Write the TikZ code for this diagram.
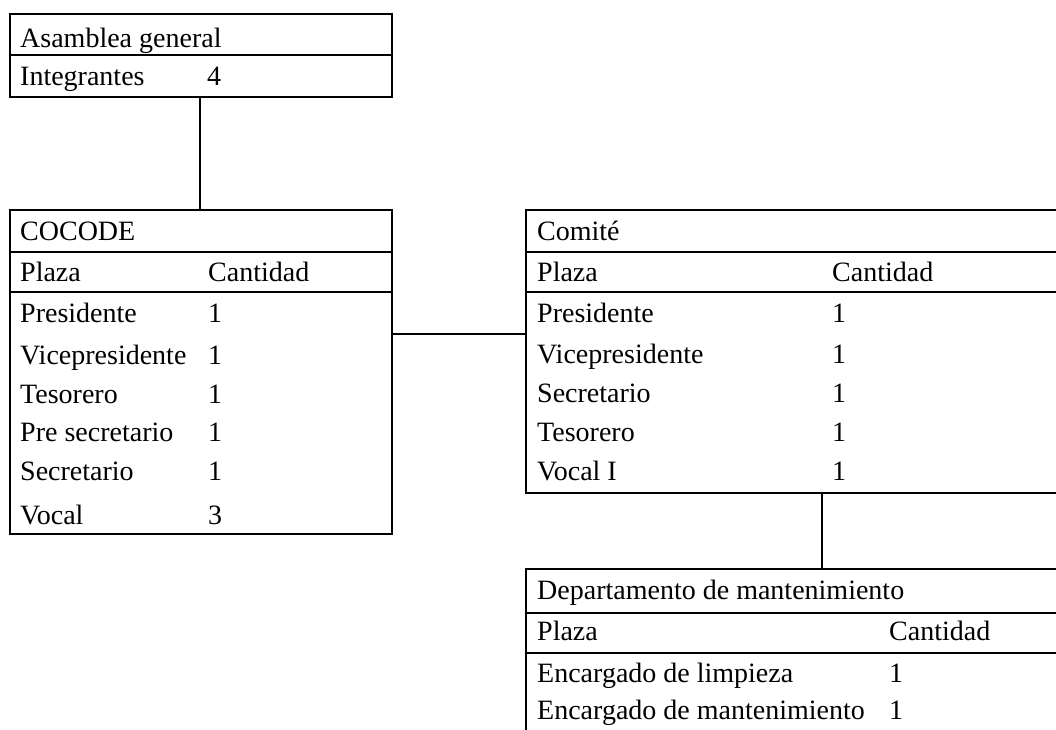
\documentclass[tikz,border=0pt]{standalone}
\usepackage{fontspec}
\setmainfont{Liberation Serif}
\begin{document}
\begin{tikzpicture}[x=1pt,y=-1pt,
  box/.style={draw, line width=2pt, anchor=north west, inner sep=0pt, outer sep=0pt},
  txt/.style={anchor=base west, inner sep=0pt, font=\fontsize{28}{34}\selectfont},
  rule/.style={line width=2pt},
  link/.style={line width=2pt}]
\clip (0,0) rectangle (1056,729);
\fill[white] (0,0) rectangle (1056,729);

% Asamblea general
\node[box, minimum width=382pt, minimum height=83pt] (asamblea) at (10,14) {};
\draw[rule] (asamblea.west |- 0,55) -- (asamblea.east |- 0,55);
\node[txt] (a1) at (20,47) {Asamblea general};
\node[txt] (a2) at (20,85) {Integrantes};
\node[txt] (a3) at (207,85) {4};

% COCODE
\node[box, minimum width=382pt, minimum height=324pt] (cocode) at (10,210) {};
\draw[rule] (cocode.west |- 0,252) -- (cocode.east |- 0,252);
\draw[rule] (cocode.west |- 0,292) -- (cocode.east |- 0,292);
\node[txt] (c0) at (20,240) {COCODE};
\node[txt] (c1) at (20,281) {Plaza};
\node[txt] (c1v) at (208,281) {Cantidad};
\node[txt] (c2) at (20,322) {Presidente};
\node[txt] (c2v) at (208,322) {1};
\node[txt] (c3) at (20,364) {Vicepresidente};
\node[txt] (c3v) at (208,364) {1};
\node[txt] (c4) at (20,403) {Tesorero};
\node[txt] (c4v) at (208,403) {1};
\node[txt] (c5) at (20,441) {Pre secretario};
\node[txt] (c5v) at (208,441) {1};
\node[txt] (c6) at (20,480) {Secretario};
\node[txt] (c6v) at (208,480) {1};
\node[txt] (c7) at (20,524) {Vocal};
\node[txt] (c7v) at (208,524) {3};

% Comite
\node[box, minimum width=560pt, minimum height=283pt] (comite) at (526,210) {};
\draw[rule] (comite.west |- 0,252) -- (comite.east |- 0,252);
\draw[rule] (comite.west |- 0,292) -- (comite.east |- 0,292);
\node[txt] (m0) at (537,240) {Comité};
\node[txt] (m1) at (537,281) {Plaza};
\node[txt] (m1v) at (832,281) {Cantidad};
\node[txt] (m2) at (537,322) {Presidente};
\node[txt] (m2v) at (832,322) {1};
\node[txt] (m3) at (537,363) {Vicepresidente};
\node[txt] (m3v) at (832,363) {1};
\node[txt] (m4) at (537,402) {Secretario};
\node[txt] (m4v) at (832,402) {1};
\node[txt] (m5) at (537,441) {Tesorero};
\node[txt] (m5v) at (832,441) {1};
\node[txt] (m6) at (537,480) {Vocal I};
\node[txt] (m6v) at (832,480) {1};

% Departamento de mantenimiento
\node[box, minimum width=560pt, minimum height=200pt] (depto) at (526,569) {};
\draw[rule] (depto.west |- 0,613) -- (depto.east |- 0,613);
\draw[rule] (depto.west |- 0,653) -- (depto.east |- 0,653);
\node[txt] (d0) at (537,599) {Departamento de mantenimiento};
\node[txt] (d1) at (537,640) {Plaza};
\node[txt] (d1v) at (889,640) {Cantidad};
\node[txt] (d2) at (537,682) {Encargado de limpieza};
\node[txt] (d2v) at (889,682) {1};
\node[txt] (d3) at (537,719) {Encargado de mantenimiento};
\node[txt] (d3v) at (889,719) {1};

% connectors
\coordinate (j0) at (200,0);
\coordinate (j1) at (0,334);
\coordinate (j2) at (822,0);
\draw[link] (asamblea.south -| j0) -- (cocode.north -| j0);
\draw[link] (cocode.east |- j1) -- (comite.west |- j1);
\draw[link] (comite.south -| j2) -- (depto.north -| j2);
\end{tikzpicture}
\end{document}
